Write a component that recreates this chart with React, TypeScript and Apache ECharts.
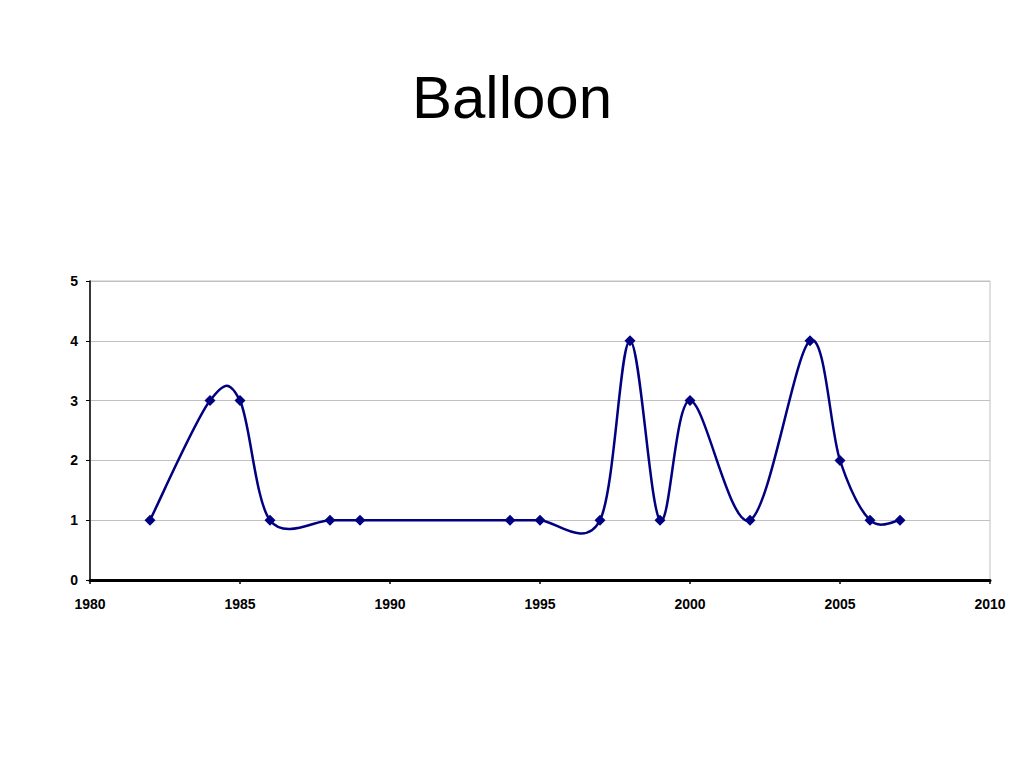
import React, { useEffect, useRef } from "react";
import * as echarts from "echarts";

const years = [1982, 1984, 1985, 1986, 1988, 1989, 1994, 1995, 1997, 1998, 1999, 2000, 2002, 2004, 2005, 2006, 2007];
const values = [1, 3, 3, 1, 1, 1, 1, 1, 1, 4, 1, 3, 1, 4, 2, 1, 1];
const title = "Balloon";

const lineColor = "#000080";

export default function App() {
  const ref = useRef<HTMLDivElement>(null);
  useEffect(() => {
    if (!ref.current) return;
    const chart = echarts.init(ref.current, null, { renderer: "svg" });
    const points = years.map((y, i) => [y, values[i]]);
    chart.setOption({
      animation: false,
      backgroundColor: "#ffffff",
      title: {
        text: title,
        left: "center",
        top: 62,
        textStyle: { fontFamily: "Liberation Sans, Arial", fontSize: 60, fontWeight: "normal", color: "#000" },
      },
      grid: { left: 90, top: 281, width: 900, height: 299, show: true, borderColor: "#c0c0c0", borderWidth: 1 },
      xAxis: {
        type: "value",
        min: 1980,
        max: 2010,
        interval: 5,
        axisLine: { show: true, lineStyle: { color: "#000", width: 3 } },
        axisTick: { show: true, length: 4, lineStyle: { color: "#000", width: 1.5 } },
        axisLabel: {
          color: "#000",
          fontFamily: "Liberation Sans, Arial",
          fontWeight: "bold",
          fontSize: 14,
          margin: 17,
          formatter: (v: number) => String(v),
        },
        splitLine: { show: false },
      },
      yAxis: {
        type: "value",
        min: 0,
        max: 5,
        interval: 1,
        axisLine: { show: true, lineStyle: { color: "#000", width: 1.5 } },
        axisTick: { show: true, length: 4, lineStyle: { color: "#000", width: 1 } },
        axisLabel: { color: "#000", fontFamily: "Liberation Sans, Arial", fontWeight: "bold", fontSize: 14, margin: 12 },
        splitLine: { show: true, lineStyle: { color: "#c0c0c0", width: 1 } },
      },
      series: [
        {
          type: "custom",
          data: [points[0]],
          encode: { x: 0, y: 1 },
          clip: false,
          silent: true,
          renderItem: (params: any, api: any) => {
            const pts = points.map((p) => api.coord(p));
            const n = pts.length;
            let d = `M${pts[0][0]},${pts[0][1]}`;
            for (let i = 0; i < n - 1; i++) {
              const p0 = pts[Math.max(0, i - 1)];
              const p1 = pts[i];
              const p2 = pts[i + 1];
              const p3 = pts[Math.min(n - 1, i + 2)];
              const c1x = p1[0] + (p2[0] - p0[0]) / 6;
              const c1y = p1[1] + (p2[1] - p0[1]) / 6;
              const c2x = p2[0] - (p3[0] - p1[0]) / 6;
              const c2y = p2[1] - (p3[1] - p1[1]) / 6;
              d += ` C${c1x},${c1y} ${c2x},${c2y} ${p2[0]},${p2[1]}`;
            }
            return {
              type: "path",
              shape: { pathData: d },
              style: { stroke: lineColor, fill: "none", lineWidth: 2.5 },
            };
          },
          z: 2,
        },
        {
          type: "scatter",
          data: points,
          symbol: "diamond",
          symbolSize: 11,
          itemStyle: { color: lineColor, opacity: 1 },
          z: 3,
        },
      ],
    });
    return () => chart.dispose();
  }, []);
  return <div ref={ref} style={{ position: "fixed", left: 0, top: 0, width: 1024, height: 768 }} />;
}
